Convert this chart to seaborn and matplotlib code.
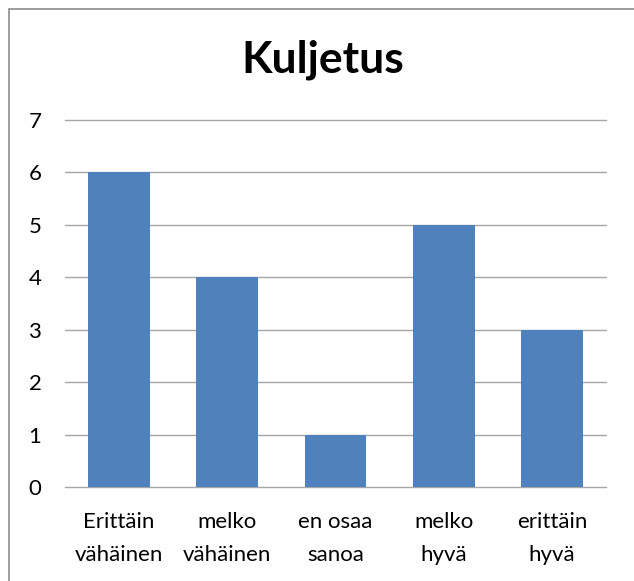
import matplotlib
matplotlib.use("Agg")
import matplotlib.pyplot as plt
import seaborn as sns
import pandas as pd
from matplotlib.patches import Rectangle

categories = ["Erittäin\nvähäinen", "melko\nvähäinen", "en osaa\nsanoa", "melko\nhyvä", "erittäin\nhyvä"]
values = [6, 4, 1, 5, 3]
yticks = [0, 1, 2, 3, 4, 5, 6, 7]

sns.set_theme(style="white")
plt.rcParams['font.family'] = ['Lato', 'DejaVu Sans']

df = pd.DataFrame({"cat": categories, "val": values})

fig = plt.figure(figsize=(6.34, 5.81), dpi=100)
ax = fig.add_axes([65/634, 1-487/581, (606-65)/634, (487-120)/581])

sns.barplot(data=df, x="cat", y="val", color="#4f81bd", width=0.57, ax=ax,
            saturation=1, zorder=3, edgecolor="none")

ax.set_ylim(0, 7)
ax.set_yticks(yticks)
ax.set_yticklabels([str(t) for t in yticks])
ax.yaxis.grid(True, color="#a6a6a6", linewidth=1, zorder=0)
for gl in ax.yaxis.get_gridlines():
    gl.set_clip_on(False)
ax.set_axisbelow(True)
for s in ax.spines.values():
    s.set_visible(False)
ax.tick_params(axis="both", length=0, labelsize=16, colors="black")
ax.tick_params(axis="y", pad=17)
ax.tick_params(axis="x", pad=18)
ax.set_xlabel("")
ax.set_ylabel("")
for lbl in ax.get_xticklabels():
    lbl.set_linespacing(1.8)

fig.text(323/634, 1-60/581, "Kuljetus", ha="center", va="center",
         fontsize=32, fontweight="bold", color="black")

fig.patches.append(Rectangle((9/634, -0.1), 1.0, 1-9/581+0.1, transform=fig.transFigure,
                             fill=False, edgecolor="#8c8c8c", linewidth=1.2))

fig.savefig("out.png", dpi=100)
